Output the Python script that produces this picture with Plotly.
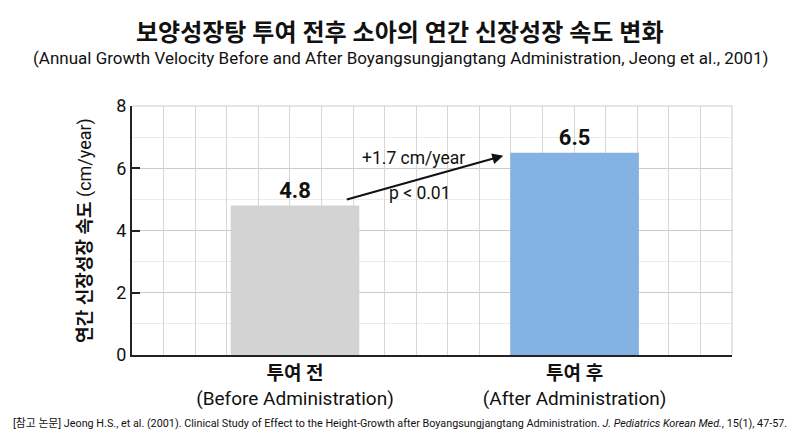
import plotly.graph_objects as go

# data
categories = ["투여 전", "투여 후"]
category_labels = [
    "<b>투여 전</b><br>(Before Administration)",
    "<b>투여 후</b><br>(After Administration)",
]
velocity = [4.8, 6.5]
bar_colors = ["#d3d3d3", "#84b3e3"]
difference_text = "+1.7 cm/year"
p_value_text = "p < 0.01"

FONT = "Roboto, 'Noto Sans CJK KR', sans-serif"
PAGE_MID = (400 - 132) / 600  # page centre in plot-area paper units

fig = go.Figure()
fig.add_trace(
    go.Bar(
        x=categories,
        y=velocity,
        width=0.46,
        marker=dict(color=bar_colors, line=dict(width=0)),
        text=[f"<b>{v}</b>" for v in velocity],
        textposition="outside",
        textfont=dict(size=22, color="#111111"),
        cliponaxis=False,
        showlegend=False,
        hoverinfo="skip",
    )
)
# invisible trace on the overlay axis so the vertical grid gets drawn
fig.add_trace(
    go.Scatter(x=[0, 19], y=[0, 0], xaxis="x2", mode="markers",
               marker=dict(opacity=0), showlegend=False, hoverinfo="skip")
)

fig.update_layout(
    width=800,
    height=436,
    margin=dict(l=132, r=68, t=106, b=81),
    paper_bgcolor="white",
    plot_bgcolor="white",
    font=dict(family=FONT, color="#111111"),
    xaxis=dict(
        type="category",
        range=[-0.583, 1.563],
        tickvals=categories,
        ticktext=category_labels,
        tickfont=dict(size=19, color="#111111"),
        showgrid=False,
        showline=True,
        linecolor="#222222",
        linewidth=2,
        ticks="",
        fixedrange=True,
    ),
    xaxis2=dict(
        overlaying="x",
        range=[0, 19],
        dtick=1,
        showgrid=True,
        gridcolor="#d6d6d6",
        gridwidth=1,
        showticklabels=False,
        zeroline=False,
        showline=False,
        ticks="",
    ),
    yaxis=dict(
        range=[0, 8],
        dtick=2,
        tickfont=dict(size=18, color="#111111"),
        showgrid=True,
        gridcolor="#cccccc",
        gridwidth=1,
        minor=dict(dtick=1, showgrid=True, gridcolor="#ebebeb", gridwidth=1),
        showline=True,
        linecolor="#222222",
        linewidth=2,
        ticks="inside",
        ticklen=8,
        tickwidth=2,
        tickcolor="#222222",
        zeroline=False,
        title=dict(
            text="<b>연간 신장성장 속도</b> (cm/year)",
            font=dict(size=18, color="#111111"),
            standoff=20,
        ),
    ),
    bargap=0.5,
)

# top and right frame
fig.add_shape(type="line", xref="paper", yref="paper", x0=0, x1=1, y0=1, y1=1,
              line=dict(color="#cccccc", width=1))
fig.add_shape(type="line", xref="paper", yref="paper", x0=1, x1=1, y0=0, y1=1,
              line=dict(color="#cccccc", width=1))

# title and subtitle
fig.add_annotation(
    x=PAGE_MID, y=1.293, xref="paper", yref="paper", showarrow=False,
    xanchor="center", yanchor="middle",
    text="<b>보양성장탕 투여 전후 소아의 연간 신장성장 속도 변화</b>",
    font=dict(size=24, color="#111111"),
)
fig.add_annotation(
    x=PAGE_MID, y=1.193, xref="paper", yref="paper", showarrow=False,
    xanchor="center", yanchor="middle",
    text="(Annual Growth Velocity Before and After Boyangsungjangtang "
    "Administration, Jeong et al., 2001)",
    font=dict(size=17, color="#111111"),
)

# change arrow between the bars
fig.add_annotation(
    x=0.745, y=6.4, ax=0.18, ay=4.98,
    xref="x", yref="y", axref="x", ayref="y",
    text="", showarrow=True,
    arrowhead=2, arrowsize=1.1, arrowwidth=2, arrowcolor="#111111",
)
fig.add_annotation(
    x=0.423, y=6.32, xref="x", yref="y", text=difference_text,
    showarrow=False, font=dict(size=17.5, color="#111111"),
)
fig.add_annotation(
    x=0.448, y=5.2, xref="x", yref="y", text=p_value_text,
    showarrow=False, font=dict(size=17.5, color="#111111"),
)

# reference footer
fig.add_annotation(
    x=PAGE_MID, y=-0.277, xref="paper", yref="paper", xanchor="center", yanchor="middle",
    text="[참고 논문] Jeong H.S., et al. (2001). Clinical Study of Effect to the "
    "Height-Growth after Boyangsungjangtang Administration. "
    "<i>J. Pediatrics Korean Med.</i>, 15(1), 47-57.",
    showarrow=False, font=dict(size=10.8, color="#111111"),
)

fig.write_html("out.html", config={"displayModeBar": False},
               post_script="document.body.style.margin='0';")
